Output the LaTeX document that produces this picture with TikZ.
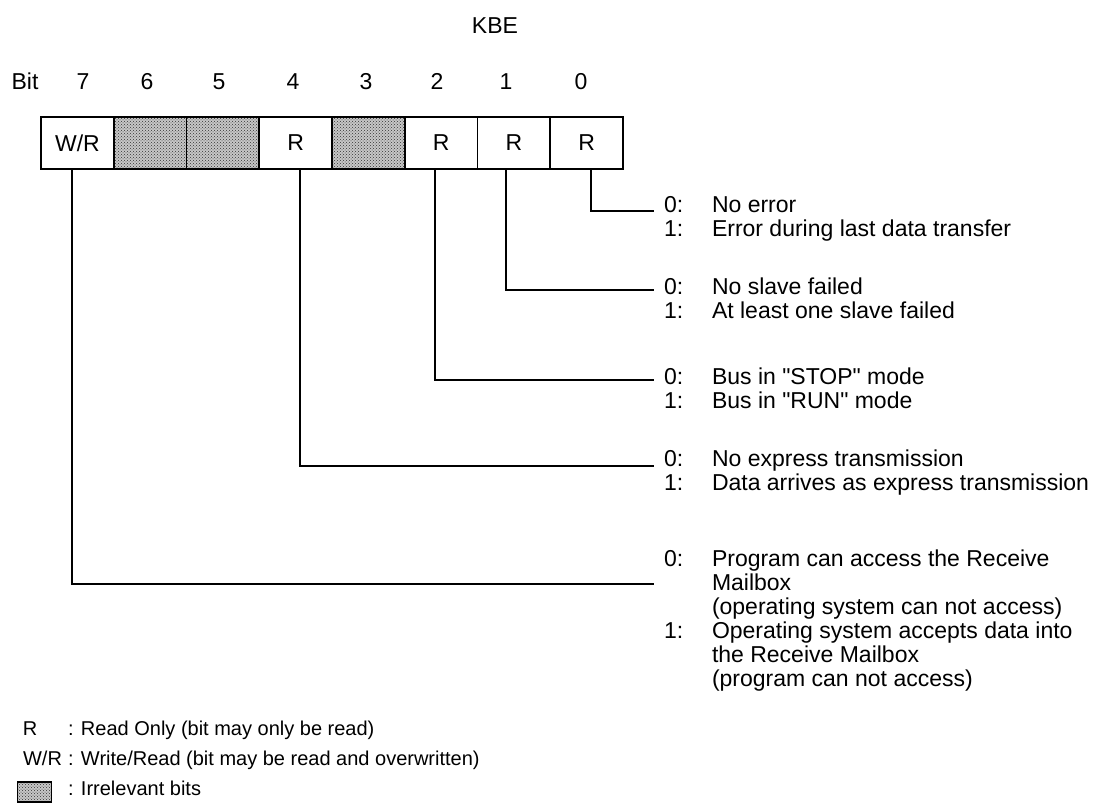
\documentclass[tikz,border=0pt]{standalone}
\usepackage{fontspec}
\setmainfont{Liberation Sans}[Ligatures=TeXOff]
\usetikzlibrary{patterns}
\begin{document}
\begin{tikzpicture}[x=1pt,y=-1pt,
  every node/.style={inner sep=0pt, outer sep=0pt},
  big/.style={font=\fontsize{23}{24}\selectfont},
  small/.style={font=\fontsize{20}{22}\selectfont},
  num/.style={big, anchor=base},
  stipple/.style={preaction={fill=black!22}, pattern=crosshatch dots, pattern color=black!80},
  cell/.style={draw, line width=1.6pt, minimum width=72.75pt, minimum height=52pt, big},
  shaded/.style={cell, stipple},
  conn/.style={line width=1.4pt},
  lbl/.style={big, anchor=base west}]
\useasboundingbox (0,0) rectangle (1100,804);
\fill[white] (0,0) rectangle (1100,804);

% title and bit numbers
\node[num] (title) at (495,33) {KBE};
\node[num] (bitlbl) at (25,89) {Bit};
\node[num] (n7) at (83,89) {7};
\node[num] (n6) at (147,89) {6};
\node[num] (n5) at (219,89) {5};
\node[num] (n4) at (293,89) {4};
\node[num] (n3) at (366,89) {3};
\node[num] (n2) at (437,89) {2};
\node[num] (n1) at (506,89) {1};
\node[num] (n0) at (581,89) {0};

% register cells
\node[cell]   (b7) at (77.4,143) {W/R};
\node[shaded] (b6) at (150.1,143) {};
\node[shaded] (b5) at (222.9,143) {};
\node[cell]   (b4) at (295.6,143) {R};
\node[shaded] (b3) at (368.4,143) {};
\node[cell]   (b2) at (441.1,143) {R};
\node[cell]   (b1) at (513.9,143) {R};
\node[cell]   (b0) at (586.6,143) {R};

% connector ends
\coordinate (e0) at (654,211);
\coordinate (e1) at (654,290);
\coordinate (e2) at (654,380);
\coordinate (e4) at (654,466);
\coordinate (e7) at (654,584);

\draw[conn] (591,0 |- b0.south) |- (e0);
\draw[conn] (506,0 |- b1.south) |- (e1);
\draw[conn] (435,0 |- b2.south) |- (e2);
\draw[conn] (300,0 |- b4.south) |- (e4);
\draw[conn] (72,0 |- b7.south) |- (e7);

% bit 0
\node[lbl] (v00) at (664,212) {0:};
\node[lbl] (d00) at (712,212) {No error};
\node[lbl] (v01) at (664,236) {1:};
\node[lbl] (d01) at (712,236) {Error during last data transfer};
% bit 1
\node[lbl] (v10) at (664,294) {0:};
\node[lbl] (d10) at (712,294) {No slave failed};
\node[lbl] (v11) at (664,318) {1:};
\node[lbl] (d11) at (712,318) {At least one slave failed};
% bit 2
\node[lbl] (v20) at (664,384) {0:};
\node[lbl] (d20) at (712,384) {Bus in "STOP" mode};
\node[lbl] (v21) at (664,408) {1:};
\node[lbl] (d21) at (712,408) {Bus in "RUN" mode};
% bit 4
\node[lbl] (v40) at (664,466) {0:};
\node[lbl] (d40) at (712,466) {No express transmission};
\node[lbl] (v41) at (664,490) {1:};
\node[lbl] (d41) at (712,490) {Data arrives as express transmission};
% bit 7
\node[lbl] (v70) at (664,566) {0:};
\node[lbl] (d70a) at (712,566) {Program can access the Receive};
\node[lbl] (d70b) at (712,590) {Mailbox};
\node[lbl] (d70c) at (712,614) {(operating system can not access)};
\node[lbl] (v71) at (664,638) {1:};
\node[lbl] (d71a) at (712,638) {Operating system accepts data into};
\node[lbl] (d71b) at (712,662) {the Receive Mailbox};
\node[lbl] (d71c) at (712,686) {(program can not access)};

% legend
\node[small, anchor=base] (kR) at (30,735) {R};
\node[small, anchor=base west] (tR) at (68,735) {: Read Only (bit may only be read)};
\node[small, anchor=base] (kWR) at (42.5,765) {W/R};
\node[small, anchor=base west] (tWR) at (68,765) {: Write/Read (bit may be read and overwritten)};
\node[draw, line width=1.2pt, stipple,
      minimum width=34pt, minimum height=20pt] (kS) at (34.5,792) {};
\node[small, anchor=base west] (tS) at (68,795) {: Irrelevant bits};
\end{tikzpicture}
\end{document}
